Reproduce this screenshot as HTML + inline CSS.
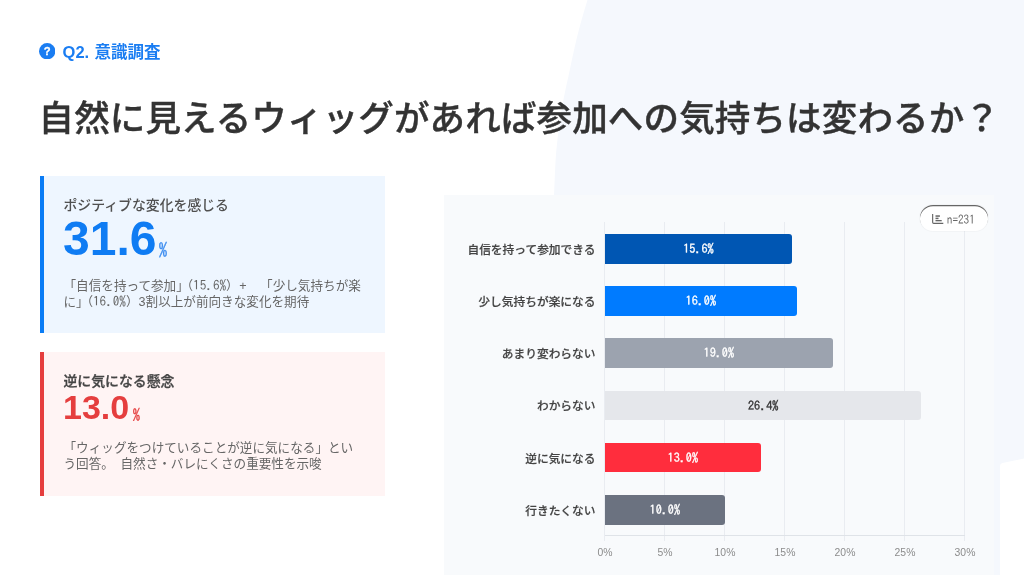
<!DOCTYPE html>
<html lang="ja">
<head>
<meta charset="utf-8">
<title>Q2. 意識調査</title>
<style>
*{box-sizing:border-box;margin:0;padding:0}
html,body{width:1024px;height:575px;overflow:hidden;background:#fff}
body{position:relative;font-family:"Liberation Sans","Noto Sans CJK JP",sans-serif;color:#333;-webkit-font-smoothing:antialiased}
#root{position:absolute;left:0;top:0;width:1024px;height:575px;overflow:hidden;will-change:transform}
.abs{position:absolute}
.nw{white-space:nowrap}
.ipa{font-family:"IPAGothic","Liberation Mono",monospace}
#bg{left:0;top:0;width:1024px;height:575px}
#hicon{left:39px;top:43.1px;width:16.4px;height:16.4px}
#htext{left:62.6px;top:38.7px;word-spacing:.8px;font-size:16.5px;line-height:26px;font-weight:700;color:#1a7df2}
#title{left:38.5px;top:93px;font-size:35.5px;letter-spacing:.15px;line-height:52px;font-weight:500;color:#333;-webkit-text-stroke:.4px #333}
.card{left:40px;width:345.2px;border-left:4px solid}
#c1{top:176px;height:157px;background:#eef6ff;border-color:#0a7cf5}
#c2{top:352px;height:144px;background:#fff4f4;border-color:#e53e3e}
.lbl{left:19.5px;font-size:13.87px;line-height:20px;font-weight:500;color:#444}
.big{left:19px;font-weight:700}
.pct{font-family:"IPAGothic","Liberation Mono",monospace;font-weight:400}
.desc{left:19.5px;width:300px;font-size:12.6px;line-height:16.2px;color:#666;margin-top:1.6px}
.pg{margin-left:-2px}
.desc .ipa{font-size:13.2px;line-height:0}
.plus{display:inline-block;width:21.4px;padding-left:.5px;line-height:0}
#chart{left:444px;top:194.6px;width:550px;height:380px;background:#f8fafc}
.cat{font-size:11.73px;line-height:16px;font-weight:500;color:#444;text-align:right;width:150px;left:445.5px;margin-top:1px;-webkit-text-stroke:.2px #444}
.bar{left:605px;height:29.6px;border-radius:0 3px 3px 0}
.val{font-family:"IPAGothic","Liberation Mono",monospace;font-size:12.2px;line-height:29.4px;color:#fff;text-align:center;width:100%;font-weight:400;-webkit-text-stroke:.3px currentColor}
.grid{top:221.5px;width:1px;height:319px;background:#e9ecf1;margin-left:-.3px}
.tick{top:546px;width:40px;text-align:center;font-size:10.4px;line-height:14px;color:#8c8c8c}
#pill{left:920.2px;top:204.8px;width:67.6px;height:26.4px;border-radius:13.2px;background:#fff;box-shadow:inset 0 1.2px 0 0 #666,0 0 0 1px rgba(0,0,0,.025)}
</style>
</head>
<body>
<div id="root">
<svg id="bg" class="abs" viewBox="0 0 1024 575">
  <path d="M587.5 0 L1024 0 L1024 575 L553 575 L553 230 C553.3 215 553.6 203 554.2 191 C555 175 555.2 165 556.1 153 C557.5 139 558.7 128 560.7 115 C563 101 565.5 89 568.4 76.5 C571 64 573.5 52 576.8 38 C580 25 583.5 13 587.5 0 Z" fill="#f5f8fd"/>
  <path d="M1000 575 L1000 466 Q1000 463.5 1002.5 463 L1024 458.5 L1024 575 Z" fill="#ffffff"/>
</svg>

<svg id="hicon" class="abs" viewBox="0 0 16 16">
  <circle cx="8" cy="8" r="8" fill="#1a7df2"/>
  <text x="8" y="12" font-family="Liberation Sans, sans-serif" font-weight="700" font-size="11" text-anchor="middle" fill="#fff" stroke="#fff" stroke-width=".3">?</text>
</svg>
<div id="htext" class="abs nw">Q2. 意識調査</div>
<div id="title" class="abs nw">自然に見えるウィッグがあれば参加への気持ちは変わるか？</div>

<div id="c1" class="abs card">
  <div class="abs lbl nw" style="top:19px;color:#505050">ポジティブな変化を感じる</div>
  <div class="abs big nw" style="top:36px;font-size:48px;line-height:54px;color:#0f7cf3">31.6</div>
  <div class="abs pct nw" style="left:114.7px;top:63.2px;font-size:17px;line-height:22px;color:#3f8ef0;-webkit-text-stroke:.25px #3f8ef0">%</div>
  <div class="abs desc" style="top:100px">「自信を持って参加」<span class="pg">（<span class="ipa">15.6%</span>）</span><span class="plus">+</span>「少し気持ちが楽に」<span class="pg">（<span class="ipa">16.0%</span>）</span>3割以上が前向きな変化を期待</div>
</div>

<div id="c2" class="abs card">
  <div class="abs lbl nw" style="top:19px;-webkit-text-stroke:.3px #444">逆に気になる懸念</div>
  <div class="abs big nw" style="top:35.4px;font-size:34px;line-height:40px;color:#e53e3e">13.0</div>
  <div class="abs pct nw" style="left:88.8px;top:53px;font-size:14.5px;line-height:20px;color:#e53e3e;-webkit-text-stroke:.25px #e53e3e">%</div>
  <div class="abs desc" style="top:86.2px">「ウィッグをつけていることが逆に気になる」という回答。<span class="ipa"> </span>自然さ・バレにくさの重要性を示唆</div>
</div>

<div id="chart" class="abs"></div>
<div class="abs grid" style="left:604.5px"></div>
<div class="abs grid" style="left:664.5px"></div>
<div class="abs grid" style="left:724.5px"></div>
<div class="abs grid" style="left:784.5px"></div>
<div class="abs grid" style="left:844.5px"></div>
<div class="abs grid" style="left:904.5px"></div>
<div class="abs grid" style="left:964.5px"></div>
<div class="abs" style="left:605px;top:534.5px;width:360px;height:1px;background:#dfe3e8"></div>
<div class="abs cat nw" style="top:240.8px">自信を持って参加できる</div>
<div class="abs bar" style="top:233.95px;width:186.8px;background:#0056b3"><div class="val" style="color:#fff">15.6%</div></div>
<div class="abs cat nw" style="top:293.0px">少し気持ちが楽になる</div>
<div class="abs bar" style="top:286.15px;width:191.6px;background:#007bff"><div class="val" style="color:#fff">16.0%</div></div>
<div class="abs cat nw" style="top:345.2px">あまり変わらない</div>
<div class="abs bar" style="top:338.35px;width:227.6px;background:#9ca3af"><div class="val" style="color:#fff">19.0%</div></div>
<div class="abs cat nw" style="top:397.4px">わからない</div>
<div class="abs bar" style="top:390.55px;width:316.4px;background:#e5e7eb"><div class="val" style="color:#333">26.4%</div></div>
<div class="abs cat nw" style="top:449.6px">逆に気になる</div>
<div class="abs bar" style="top:442.75px;width:155.6px;background:#ff2d3d"><div class="val" style="color:#fff">13.0%</div></div>
<div class="abs cat nw" style="top:501.8px">行きたくない</div>
<div class="abs bar" style="top:494.95px;width:119.6px;background:#6b7280"><div class="val" style="color:#fff">10.0%</div></div>
<div class="abs tick nw" style="left:585px">0%</div>
<div class="abs tick nw" style="left:645px">5%</div>
<div class="abs tick nw" style="left:705px">10%</div>
<div class="abs tick nw" style="left:765px">15%</div>
<div class="abs tick nw" style="left:825px">20%</div>
<div class="abs tick nw" style="left:885px">25%</div>
<div class="abs tick nw" style="left:945px">30%</div>
<div id="pill" class="abs">
  <svg class="abs" style="left:12.1px;top:9.4px;width:11.5px;height:10.5px" viewBox="0 0 23 21"><path d="M1.3 0 V16.6 Q1.3 18.8 3.5 18.8 H22.6" fill="none" stroke="#666" stroke-width="2.3"/><rect x="7" y="2.6" width="8.8" height="3" fill="#666"/><rect x="7" y="7.3" width="6" height="3" fill="#666"/><rect x="7" y="12" width="12.4" height="2.6" fill="#666"/></svg>
  <div class="abs ipa nw" style="left:26.6px;top:7.9px;font-size:11.2px;line-height:14px;color:#666;transform:scaleY(1.1);transform-origin:50% 75%">n=231</div>
</div>
</div>
</body>
</html>
